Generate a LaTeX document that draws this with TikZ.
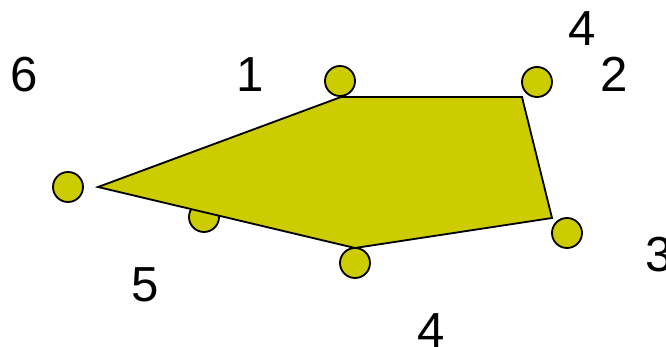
\documentclass[tikz,border=0pt]{standalone}
\usepackage{fontspec}
\setmainfont{Liberation Sans}
\usepackage{tikz}
\usetikzlibrary{positioning}
\definecolor{polyOlive}{RGB}{204,204,0}

\begin{document}
\begin{tikzpicture}[
    x=0.025cm, y=-0.025cm,
    every node/.style={font=\fontsize{35}{42}\selectfont},
    dot/.style={draw, circle, line width=1.3pt, fill=polyOlive,
      minimum size=0.75cm, inner sep=0pt},
    num/.style={inner sep=0pt, anchor=center}
  ]
    \useasboundingbox (0,0) rectangle (666,347);
    % dot hidden behind the shape
    \node[dot] (d5) at (204,217) {};
    % the shape
    \coordinate (v1) at (341,97);
    \coordinate (v2) at (522,97);
    \coordinate (v3) at (552,218);
    \coordinate (v4) at (355,248);
    \coordinate (v5) at (98,187);
    \draw[line width=1.3pt, fill=polyOlive, line join=miter]
      (v1) -- (v2) -- (v3) -- (v4) -- (v5) -- cycle;
    % the other dots
    \node[dot] (d1) at (340,81) {};
    \node[dot] (d2) at (537,82) {};
    \node[dot] (d3) at (567,233) {};
    \node[dot] (d4) at (355,263) {};
    \node[dot] (d6) at (68,187) {};
    % numbers
    \node[num] (n6) at (24,74.5) {6};
    \node[num] (n1) at (250,74.5) {1};
    \node[num] (n4a) at (582,29) {4};
    \node[num] (n2) at (614,74.5) {2};
    \node[num] (n3) at (659,255) {3};
    \node[num] (n5) at (145,285) {5};
    \node[num] (n4b) at (431,331) {4};
  \end{tikzpicture}
\end{document}
